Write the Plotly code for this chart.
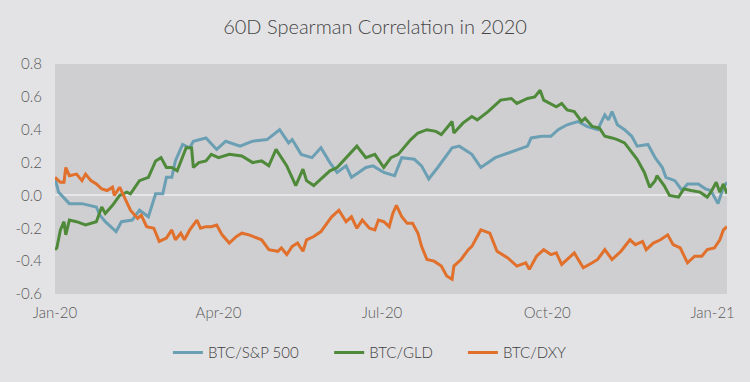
import plotly.graph_objects as go

# ---- data ----
spx_dates = ["2020-01-01","2020-01-03","2020-01-09","2020-01-16","2020-01-24","2020-01-26","2020-01-29",
             "2020-02-04","2020-02-07","2020-02-13","2020-02-17","2020-02-22","2020-02-26","2020-03-01",
             "2020-03-03","2020-03-06","2020-03-08","2020-03-12","2020-03-16","2020-03-18","2020-03-25",
             "2020-03-31","2020-04-05","2020-04-13","2020-04-20","2020-04-28","2020-05-05","2020-05-10",
             "2020-05-12","2020-05-17","2020-05-23","2020-05-28","2020-06-02","2020-06-06","2020-06-11",
             "2020-06-14","2020-06-18","2020-06-22","2020-06-26","2020-07-02","2020-07-08","2020-07-12",
             "2020-07-19","2020-07-23","2020-07-27","2020-08-01","2020-08-09","2020-08-13","2020-08-20",
             "2020-08-25","2020-09-02","2020-09-07","2020-09-14","2020-09-20","2020-09-22","2020-09-28",
             "2020-10-03","2020-10-07","2020-10-12","2020-10-18","2020-10-23","2020-10-29","2020-11-02",
             "2020-11-04","2020-11-06","2020-11-09","2020-11-13","2020-11-17","2020-11-20","2020-11-26",
             "2020-11-30","2020-12-04","2020-12-06","2020-12-11","2020-12-15","2020-12-18","2020-12-24",
             "2020-12-28","2020-12-31","2021-01-04","2021-01-07","2021-01-09"]
spx_vals = [0.105,0.02,-0.05,-0.05,-0.07,-0.12,-0.16,
            -0.22,-0.16,-0.15,-0.09,-0.13,0.01,0.01,
            0.11,0.11,0.21,0.31,0.29,0.33,0.35,
            0.28,0.33,0.30,0.33,0.34,0.40,0.32,
            0.34,0.25,0.23,0.29,0.20,0.14,0.18,
            0.11,0.14,0.17,0.18,0.14,0.12,0.23,
            0.22,0.18,0.10,0.17,0.29,0.30,0.25,
            0.17,0.23,0.25,0.28,0.30,0.35,0.36,
            0.36,0.40,0.43,0.45,0.42,0.40,0.49,
            0.46,0.51,0.43,0.40,0.36,0.30,0.31,
            0.23,0.17,0.11,0.09,0.03,0.07,0.07,
            0.04,0.03,-0.05,0.05,0.08]

gld_dates = ["2020-01-01","2020-01-02","2020-01-04","2020-01-06","2020-01-07","2020-01-09","2020-01-13",
             "2020-01-18","2020-01-24","2020-01-27","2020-01-29","2020-02-02","2020-02-06","2020-02-10",
             "2020-02-12","2020-02-17","2020-02-22","2020-02-26","2020-02-29","2020-03-03","2020-03-06",
             "2020-03-09","2020-03-14","2020-03-17","2020-03-18","2020-03-21","2020-03-25","2020-03-28",
             "2020-04-01","2020-04-07","2020-04-14","2020-04-20","2020-04-25","2020-04-29","2020-05-03",
             "2020-05-09","2020-05-14","2020-05-18","2020-05-20","2020-05-24","2020-05-29","2020-06-02",
             "2020-06-06","2020-06-11","2020-06-17","2020-06-22","2020-06-27","2020-07-02","2020-07-06",
             "2020-07-10","2020-07-13","2020-07-17","2020-07-21","2020-07-26","2020-07-31","2020-08-03",
             "2020-08-09","2020-08-10","2020-08-15","2020-08-20","2020-08-23","2020-08-29","2020-09-05",
             "2020-09-11","2020-09-14","2020-09-20","2020-09-24","2020-09-27","2020-09-29","2020-10-03",
             "2020-10-06","2020-10-09","2020-10-12","2020-10-16","2020-10-20","2020-10-22","2020-10-26",
             "2020-10-30","2020-11-02","2020-11-06","2020-11-09","2020-11-13","2020-11-17","2020-11-20",
             "2020-11-24","2020-11-27","2020-11-30","2020-12-01","2020-12-05","2020-12-08","2020-12-13",
             "2020-12-16","2020-12-20","2020-12-25","2020-12-29","2020-12-31","2021-01-03","2021-01-05",
             "2021-01-07","2021-01-09"]
gld_vals = [-0.33,-0.32,-0.21,-0.16,-0.24,-0.15,-0.16,
            -0.18,-0.16,-0.07,-0.11,-0.06,0.00,0.02,
            0.01,0.09,0.11,0.21,0.23,0.17,0.17,
            0.15,0.29,0.29,0.17,0.20,0.21,0.25,
            0.23,0.25,0.24,0.20,0.21,0.18,0.28,
            0.18,0.06,0.16,0.09,0.06,0.11,0.15,
            0.17,0.23,0.30,0.23,0.25,0.17,0.23,
            0.25,0.29,0.34,0.38,0.40,0.39,0.37,
            0.45,0.38,0.44,0.48,0.46,0.51,0.58,
            0.59,0.56,0.59,0.60,0.64,0.58,0.56,
            0.54,0.56,0.52,0.51,0.45,0.47,0.42,
            0.41,0.36,0.35,0.34,0.32,0.26,0.22,
            0.14,0.05,0.09,0.12,0.06,0.00,-0.01,
            0.04,0.03,0.02,-0.01,0.02,0.08,0.02,
            0.07,0.01]

dxy_dates = ["2020-01-01","2020-01-04","2020-01-06","2020-01-07","2020-01-09","2020-01-13","2020-01-16",
             "2020-01-18","2020-01-21","2020-01-24","2020-01-27","2020-01-30","2020-02-02","2020-02-03",
             "2020-02-06","2020-02-08","2020-02-12","2020-02-16","2020-02-18","2020-02-21","2020-02-25",
             "2020-02-28","2020-03-03","2020-03-06","2020-03-08","2020-03-11","2020-03-13","2020-03-16",
             "2020-03-20","2020-03-22","2020-03-25","2020-03-28","2020-03-31","2020-04-03","2020-04-07",
             "2020-04-11","2020-04-14","2020-04-18","2020-04-22","2020-04-25","2020-04-29","2020-05-04",
             "2020-05-06","2020-05-09","2020-05-12","2020-05-15","2020-05-18","2020-05-20","2020-05-24",
             "2020-05-28","2020-06-01","2020-06-03","2020-06-07","2020-06-11","2020-06-14","2020-06-17",
             "2020-06-20","2020-06-24","2020-06-27","2020-06-29","2020-07-02","2020-07-05","2020-07-07",
             "2020-07-09","2020-07-12","2020-07-15","2020-07-18","2020-07-21","2020-07-23","2020-07-26",
             "2020-07-30","2020-08-03","2020-08-06","2020-08-09","2020-08-10","2020-08-14","2020-08-18",
             "2020-08-20","2020-08-25","2020-08-30","2020-09-03","2020-09-09","2020-09-14","2020-09-19",
             "2020-09-21","2020-09-25","2020-09-29","2020-10-03","2020-10-06","2020-10-09","2020-10-16",
             "2020-10-21","2020-10-26","2020-10-29","2020-11-02","2020-11-06","2020-11-11","2020-11-16",
             "2020-11-19","2020-11-23","2020-11-25","2020-11-29","2020-12-03","2020-12-07","2020-12-10",
             "2020-12-14","2020-12-18","2020-12-22","2020-12-26","2020-12-29","2021-01-02","2021-01-05",
             "2021-01-07","2021-01-09"]
dxy_vals = [0.11,0.08,0.08,0.17,0.12,0.13,0.09,
            0.13,0.09,0.07,0.04,0.03,0.05,0.00,
            0.05,0.00,-0.09,-0.14,-0.12,-0.19,-0.20,
            -0.28,-0.26,-0.21,-0.27,-0.23,-0.27,-0.21,
            -0.15,-0.20,-0.19,-0.19,-0.18,-0.24,-0.29,
            -0.25,-0.23,-0.24,-0.26,-0.27,-0.33,-0.34,
            -0.32,-0.36,-0.31,-0.29,-0.34,-0.27,-0.25,
            -0.22,-0.16,-0.13,-0.09,-0.16,-0.13,-0.20,
            -0.15,-0.20,-0.21,-0.15,-0.16,-0.19,-0.11,
            -0.06,-0.13,-0.17,-0.17,-0.23,-0.31,-0.39,
            -0.40,-0.43,-0.49,-0.51,-0.43,-0.39,-0.33,
            -0.31,-0.21,-0.23,-0.34,-0.38,-0.43,-0.41,
            -0.45,-0.37,-0.33,-0.36,-0.35,-0.42,-0.35,
            -0.44,-0.41,-0.39,-0.33,-0.39,-0.34,-0.27,
            -0.30,-0.28,-0.33,-0.29,-0.27,-0.24,-0.30,
            -0.32,-0.41,-0.37,-0.37,-0.33,-0.32,-0.27,
            -0.21,-0.19]

series_names = ["BTC/S&P 500", "BTC/GLD", "BTC/DXY"]
x_tick_dates = ["2020-01-01", "2020-04-01", "2020-07-01", "2020-10-01", "2021-01-01"]
x_tick_labels = ["Jan-20", "Apr-20", "Jul-20", "Oct-20", "Jan-21"]
y_tick_vals = [0.8, 0.6, 0.4, 0.2, 0.0, -0.2, -0.4, -0.6]
y_tick_labels = ["0.8", "0.6", "0.4", "0.2", "0.0", "-0.2", "-0.4", "-0.6"]

colors = ["#6b9fb4", "#4f8a3b", "#e0702b"]
FONT = "Lato, 'Open Sans', sans-serif"
legend_ids = ["legend", "legend2", "legend3"]
legend_x = [0.168, 0.408, 0.607]

fig = go.Figure()
for name, xs, ys, c, lg in zip(series_names,
                               [spx_dates, gld_dates, dxy_dates],
                               [spx_vals, gld_vals, dxy_vals], colors, legend_ids):
    fig.add_trace(go.Scatter(x=xs, y=ys, mode="lines", name=name, legend=lg,
                             line=dict(color=c, width=3)))

legend_style = dict(orientation="h", xanchor="left", y=-0.255, yanchor="middle",
                    font=dict(family=FONT, size=15, color="#404040", weight=300),
                    bgcolor="rgba(0,0,0,0)", itemwidth=30)

fig.update_layout(
    width=750, height=382,
    paper_bgcolor="#e3e3e5", plot_bgcolor="#cfcfd1",
    margin=dict(l=55, r=23, t=64, b=88, autoexpand=False),
    title=dict(text="60D Spearman Correlation in 2020", x=0.5, xanchor="center",
               y=0.93, yanchor="middle",
               font=dict(family=FONT, size=20, color="#454545", weight=300)),
    font=dict(family=FONT, size=15, color="#595959", weight=300),
    showlegend=True,
    legend=dict(x=legend_x[0], **legend_style),
    legend2=dict(x=legend_x[1], **legend_style),
    legend3=dict(x=legend_x[2], **legend_style),
)
fig.update_xaxes(range=["2020-01-01", "2021-01-09"], tickvals=x_tick_dates, ticktext=x_tick_labels,
                 showgrid=False, zeroline=False, showline=False, ticks="", ticklabelstandoff=8,
                 tickfont=dict(family=FONT, size=15, color="#595959", weight=300))
fig.update_yaxes(range=[-0.6, 0.8], tickvals=y_tick_vals, ticktext=y_tick_labels,
                 showgrid=False, zeroline=True, zerolinecolor="#e6e6e8", zerolinewidth=1.5,
                 showline=False, ticks="", ticklabelstandoff=12,
                 tickfont=dict(family=FONT, size=15, color="#595959", weight=300))

fig.write_html("out.html", config={"displayModeBar": False},
               post_script="document.body.style.margin='0';")
